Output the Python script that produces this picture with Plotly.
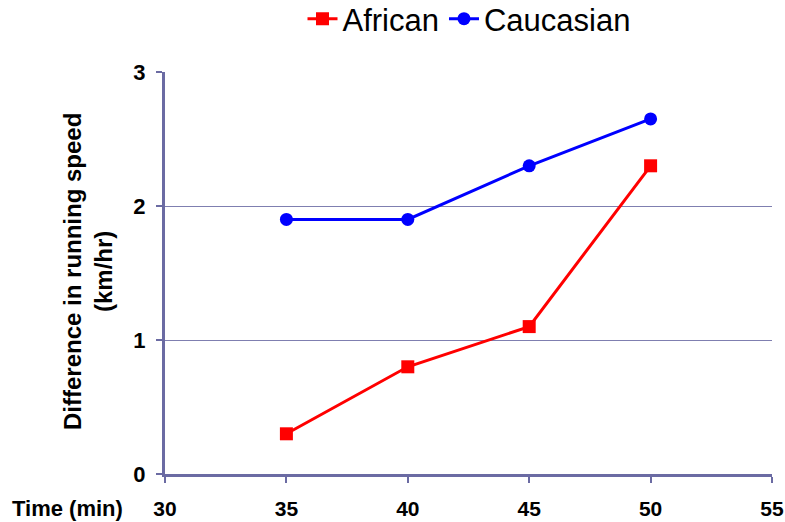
import plotly.graph_objects as go

time_min = [35, 40, 45, 50]
african = [0.3, 0.8, 1.1, 2.3]
caucasian = [1.9, 1.9, 2.3, 2.65]
x_ticks = [30, 35, 40, 45, 50, 55]
y_ticks = [0, 1, 2, 3]

axis_col = "#6b6ba3"
grid_col = "#7f7fb0"
font = "Liberation Sans, Arial, sans-serif"

W, H = 785, 522
L, R, T, B = 165, 13, 72, 48
pw = W - L - R
ph = H - T - B

fig = go.Figure()
fig.add_trace(go.Scatter(x=time_min, y=african, name="African", mode="lines+markers",
                         line=dict(color="#ff0000", width=3),
                         marker=dict(symbol="square", size=13, color="#ff0000")))
fig.add_trace(go.Scatter(x=time_min, y=caucasian, name="Caucasian", mode="lines+markers",
                         line=dict(color="#0000ff", width=3),
                         marker=dict(symbol="circle", size=13, color="#0000ff")))

fig.update_layout(
    width=W, height=H,
    margin=dict(l=L, r=R, t=T, b=B),
    paper_bgcolor="white", plot_bgcolor="white",
    font=dict(family=font, color="black"),
    showlegend=True,
    legend=dict(orientation="h", x=(469 - L) / pw, xanchor="center", y=1 - 19 / H, yanchor="middle",
                yref="container", font=dict(size=31, family=font),
                traceorder="normal", bgcolor="rgba(0,0,0,0)"),
    xaxis=dict(range=[30, 55], tickvals=x_ticks, showgrid=False, automargin=False,
               showline=True, linecolor=axis_col, linewidth=3,
               ticks="outside", ticklen=6, tickwidth=2, tickcolor=axis_col,
               tickfont=dict(size=21, family=font, weight="bold"),
               ticklabelstandoff=8, ticklabeloverflow="allow", zeroline=False),
    yaxis=dict(range=[0, 3], tickvals=y_ticks, showgrid=True, gridcolor=grid_col, gridwidth=1,
               automargin=False,
               showline=True, linecolor=axis_col, linewidth=3,
               ticks="outside", ticklen=6, tickwidth=2, tickcolor=axis_col,
               tickfont=dict(size=22, family=font, weight="bold"),
               ticklabelstandoff=6, zeroline=False),
    annotations=[
        dict(text="Time (min)", x=(10 - L) / pw, xref="paper", xanchor="left",
             y=(474 - 508) / ph, yref="paper", yanchor="middle",
             showarrow=False, font=dict(size=22, family=font, weight="bold")),
        dict(text="Difference in running speed<br>(km/hr)", textangle=-90,
             x=(88 - L) / pw, xref="paper", xanchor="center",
             y=(474 - 272) / ph, yref="paper", yanchor="middle", showarrow=False,
             font=dict(size=24, family=font, weight="bold")),
    ],
)

fig.write_html("out.html")
